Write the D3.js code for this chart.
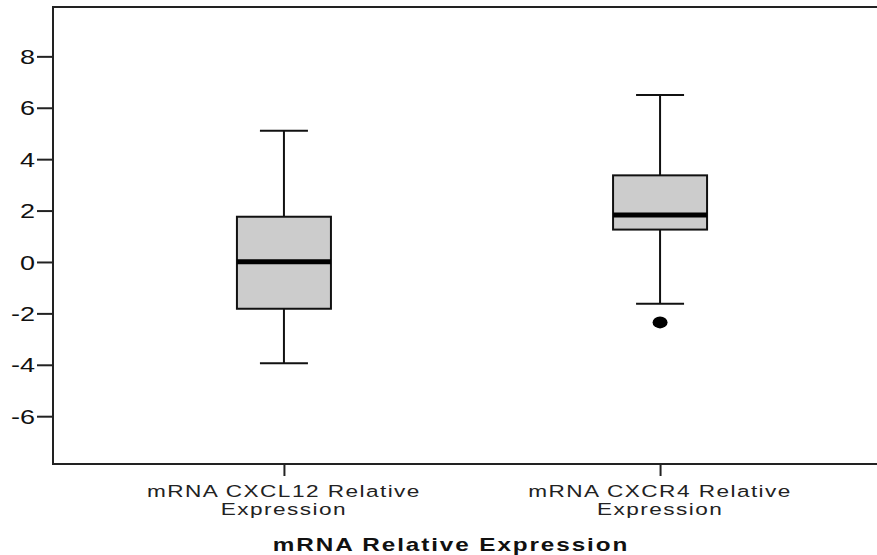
<!DOCTYPE html>
<html>
<head>
<meta charset="utf-8">
<script src="https://cdn.jsdelivr.net/npm/d3@7"></script>
<style>
  body { margin: 0; background: #fff; }
  svg { display: block; font-family: "Liberation Sans", Arial, sans-serif; }
</style>
</head>
<body>
<div id="chart"></div>
<script>
// data
const categories = ["mRNA CXCL12 Relative Expression", "mRNA CXCR4 Relative Expression"];
const labelLines = [["mRNA CXCL12 Relative", "Expression"], ["mRNA CXCR4 Relative", "Expression"]];
const whiskerLow = [-3.94, -1.63];
const q1 = [-1.82, 1.26];
const median = [0.01, 1.83];
const q3 = [1.76, 3.37];
const whiskerHigh = [5.11, 6.5];
const outliers = [[], [-2.35]];
const yTicks = [-6, -4, -2, 0, 2, 4, 6, 8];
const xTitle = "mRNA Relative Expression";

var width = 877, height = 555;
var plotLeft = 53, plotTop = 7, plotBottom = 464, plotRight = 891;
var stretch = 1.35; // text in the picture is drawn wide

var svg = d3.select("#chart").append("svg")
    .attr("width", width)
    .attr("height", height);

var y = d3.scaleLinear().domain([-7.86, 9.92]).range([plotBottom, plotTop]);
var x = d3.scalePoint().domain(categories).range([plotLeft, plotRight]).padding(0.614);

var boxW = 94, capW = 48;

// frame (right side runs off the picture)
svg.append("rect")
    .attr("x", plotLeft).attr("y", plotTop)
    .attr("width", plotRight - plotLeft).attr("height", plotBottom - plotTop)
    .attr("fill", "none")
    .attr("stroke", "#222")
    .attr("stroke-width", 2);

// y axis
var yAxis = svg.append("g")
    .attr("transform", "translate(" + plotLeft + ",0)")
    .call(d3.axisLeft(y).tickValues(yTicks).tickSize(16).tickFormat(function(d) { return String(d); }));
yAxis.select(".domain").remove();
yAxis.selectAll(".tick line").attr("stroke", "#222").attr("stroke-width", 2);
yAxis.selectAll(".tick text")
    .attr("x", -18 / stretch)
    .attr("dy", "0.36em")
    .attr("transform", "scale(" + stretch + ",1)")
    .style("font-size", "20px")
    .style("font-family", "Liberation Sans, Arial, sans-serif")
    .attr("fill", "#111");

// x axis
var xAxis = svg.append("g")
    .attr("transform", "translate(0," + plotBottom + ")")
    .call(d3.axisBottom(x).tickSize(12).tickFormat(""));
xAxis.select(".domain").remove();
xAxis.selectAll(".tick line").attr("stroke", "#222").attr("stroke-width", 2);

categories.forEach(function(c, i) {
  var g = svg.append("g")
      .attr("transform", "translate(" + x(c) + ",0) scale(1.45,1)");
  labelLines[i].forEach(function(line, j) {
    g.append("text")
        .attr("x", 0)
        .attr("y", 497 + j * 18)
        .attr("text-anchor", "middle")
        .style("font-size", "15.6px")
        .style("letter-spacing", "1px")
        .attr("fill", "#222")
        .text(line);
  });
});

svg.append("g")
    .attr("transform", "translate(451,551) scale(" + stretch + ",1)")
  .append("text")
    .attr("text-anchor", "middle")
    .style("font-size", "18px")
    .style("font-weight", "bold")
    .style("letter-spacing", "1.4px")
    .attr("fill", "#111")
    .text(xTitle);

// boxes
var boxes = svg.selectAll(".box")
    .data(categories)
  .enter().append("g")
    .attr("class", "box");

boxes.append("line")
    .attr("x1", function(d) { return x(d); })
    .attr("x2", function(d) { return x(d); })
    .attr("y1", function(d, i) { return y(whiskerHigh[i]); })
    .attr("y2", function(d, i) { return y(whiskerLow[i]); })
    .attr("stroke", "#111").attr("stroke-width", 2);

boxes.selectAll(".cap")
    .data(function(d, i) { return [{c: d, v: whiskerHigh[i]}, {c: d, v: whiskerLow[i]}]; })
  .enter().append("line")
    .attr("x1", function(d) { return x(d.c) - capW / 2; })
    .attr("x2", function(d) { return x(d.c) + capW / 2; })
    .attr("y1", function(d) { return y(d.v); })
    .attr("y2", function(d) { return y(d.v); })
    .attr("stroke", "#111").attr("stroke-width", 2);

boxes.append("rect")
    .attr("x", function(d) { return x(d) - boxW / 2; })
    .attr("y", function(d, i) { return y(q3[i]); })
    .attr("width", boxW)
    .attr("height", function(d, i) { return y(q1[i]) - y(q3[i]); })
    .attr("fill", "#cccccc")
    .attr("stroke", "#111").attr("stroke-width", 2);

boxes.append("line")
    .attr("x1", function(d) { return x(d) - boxW / 2; })
    .attr("x2", function(d) { return x(d) + boxW / 2; })
    .attr("y1", function(d, i) { return y(median[i]); })
    .attr("y2", function(d, i) { return y(median[i]); })
    .attr("stroke", "#000").attr("stroke-width", 5);

boxes.selectAll(".outlier")
    .data(function(d, i) { return outliers[i].map(function(v) { return {c: d, v: v}; }); })
  .enter().append("ellipse")
    .attr("cx", function(d) { return x(d.c); })
    .attr("cy", function(d) { return y(d.v); })
    .attr("rx", 7.5)
    .attr("ry", 6)
    .attr("fill", "#000");
</script>
</body>
</html>
